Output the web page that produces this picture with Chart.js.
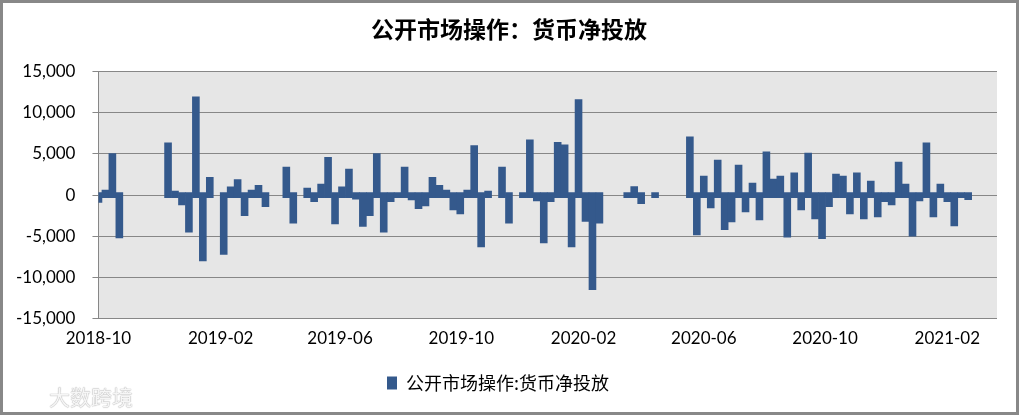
<!DOCTYPE html>
<html>
<head>
<meta charset="utf-8">
<script src="https://cdn.jsdelivr.net/npm/chart.js@4.4.1/dist/chart.umd.min.js"></script>
<style>
  html, body { margin: 0; padding: 0; background: #fff; }
  #frame { position: relative; width: 1019px; height: 415px; box-sizing: border-box; border: 3px solid #888; background: #fff; }
  #wrap { position: absolute; left: -4px; top: 0; width: 1013px; height: 409px; }
  #mark { position: absolute; left: 46px; top: 378px; font: 21px 'Noto Sans CJK SC'; color: #f6f6f6;
          text-shadow: 0 0 1px #aaa, 0 0 1px #aaa; }
</style>
</head>
<body>
<div id="frame">
  <div id="wrap"><canvas id="chart"></canvas></div>
  <div id="mark">大数跨境</div>
</div>
<script>
const chartTitle = '公开市场操作：货币净投放';
const seriesName = '公开市场操作:货币净投放';

// weekly slots, first one starts 2018-10-01
const firstWeek = '2018-10-01';
const lastDay = '2021-03-23';
const tickDates = ['2018-10-01', '2019-02-01', '2019-06-01', '2019-10-01', '2020-02-01', '2020-06-01', '2020-10-01', '2021-02-01'];
const tickLabels = ['2018-10', '2019-02', '2019-06', '2019-10', '2020-02', '2020-06', '2020-10', '2021-02'];

// top and bottom of each weekly bar (null = no data that week)
const netHigh = [
  300, 600, 5050, 300, null, null, null, null, null, null,
  6340, 500, 300, 300, 11950, 300, 2150, null, 300, 1000,
  1900, 300, 600, 1200, 300, null, null, 3400, 300, null,
  850, 300, 1350, 4600, 300, 1000, 3150, 300, 300, 300,
  5050, 300, 300, 300, 3400, 300, 300, 300, 2150, 1200,
  600, 300, 300, 600, 6000, 300, 500, null, 3400, 300,
  null, 300, 6700, 300, 300, 300, 6400, 6100, 300, 11590,
  300, 300, 300, null, null, null, 300, 1050, 300, null,
  300, null, null, null, null, 7070, 300, 2300, 300, 4250,
  300, 300, 3650, 300, 1450, 300, 5250, 1950, 2300, 300,
  2700, 300, 5100, 300, 300, 300, 2550, 2300, 300, 2700,
  300, 1700, 300, 300, 300, 4000, 1350, 300, 300, 6350,
  300, 1350, 300, 300, 300, 300
];
const netLow = [
  -900, -300, -300, -5200, null, null, null, null, null, null,
  -300, -300, -1200, -4500, -300, -8000, -300, null, -7200, -300,
  -300, -2500, -300, -300, -1400, null, null, -300, -3400, null,
  -300, -800, -300, -300, -3500, -300, -300, -500, -3800, -2500,
  -300, -4500, -800, -300, -300, -600, -1650, -1300, -300, -300,
  -300, -1800, -2300, -300, -300, -6300, -300, null, -300, -3400,
  null, -300, -300, -700, -5800, -800, -300, -300, -6300, -300,
  -3200, -11500, -3400, null, null, null, -300, -300, -1050, null,
  -300, null, null, null, null, -300, -4850, -300, -1550, -300,
  -4200, -3250, -300, -2050, -300, -3000, -300, -300, -300, -5100,
  -300, -1800, -300, -2900, -5300, -1400, -300, -300, -2300, -300,
  -2900, -300, -2650, -800, -1200, -300, -300, -5000, -700, -300,
  -2650, -300, -800, -3750, -300, -550
];

const DAY = 86400000;
const dayOf = s => (Date.parse(s) - Date.parse(firstWeek)) / DAY;

const points = [];
netHigh.forEach((h, i) => {
  if (h === null) return;
  points.push({ x: i * 7, y: [netLow[i], h] });
});

const plotBg = {
  id: 'plotBg',
  afterLayout(chart) {
    // centre the title on the whole frame, not just on axis + plot
    chart.titleBlock.left += 11;
    chart.titleBlock.right += 11;
  },
  beforeDraw(chart) {
    const { ctx, chartArea: a } = chart;
    ctx.save();
    ctx.fillStyle = '#e6e6e6';
    ctx.fillRect(a.left, a.top, a.right - a.left, a.bottom - a.top);
    ctx.restore();
  }
};

const tickFont = { family: 'Lato', size: 17 };

new Chart(document.getElementById('chart'), {
  type: 'bar',
  data: {
    datasets: [{
      label: seriesName,
      data: points,
      backgroundColor: '#34598c',
      borderWidth: 0,
      barPercentage: 1,
      categoryPercentage: 1
    }]
  },
  options: {
    responsive: true,
    maintainAspectRatio: false,
    animation: false,
    layout: { padding: { left: 0, right: 15, top: 2, bottom: 10 } },
    plugins: {
      title: {
        display: true,
        text: chartTitle,
        color: '#000',
        font: { family: 'Noto Sans CJK SC', size: 23, weight: 'bold' },
        padding: { top: 10, bottom: 29 }
      },
      legend: {
        position: 'bottom',
        labels: {
          color: '#000',
          font: { family: 'Noto Sans CJK SC', size: 18 },
          boxWidth: 10,
          boxHeight: 13,
          padding: 15
        }
      },
      tooltip: { enabled: false }
    },
    scales: {
      x: {
        type: 'linear',
        min: 0,
        max: dayOf(lastDay),
        offset: false,
        afterBuildTicks: axis => { axis.ticks = tickDates.map(d => ({ value: dayOf(d) })); },
        ticks: {
          autoSkip: false,
          maxRotation: 0,
          padding: 10,
          color: '#000',
          font: tickFont,
          callback: (v, i) => tickLabels[i]
        },
        grid: { display: false, drawTicks: false },
        border: { display: false }
      },
      y: {
        min: -15000,
        max: 15000,
        ticks: {
          stepSize: 5000,
          padding: 17,
          color: '#000',
          font: tickFont,
          callback: v => v.toLocaleString('en-US')
        },
        grid: { color: '#878787', tickLength: 6 },
        border: { color: '#878787' }
      }
    }
  },
  plugins: [plotBg]
});
</script>
</body>
</html>
